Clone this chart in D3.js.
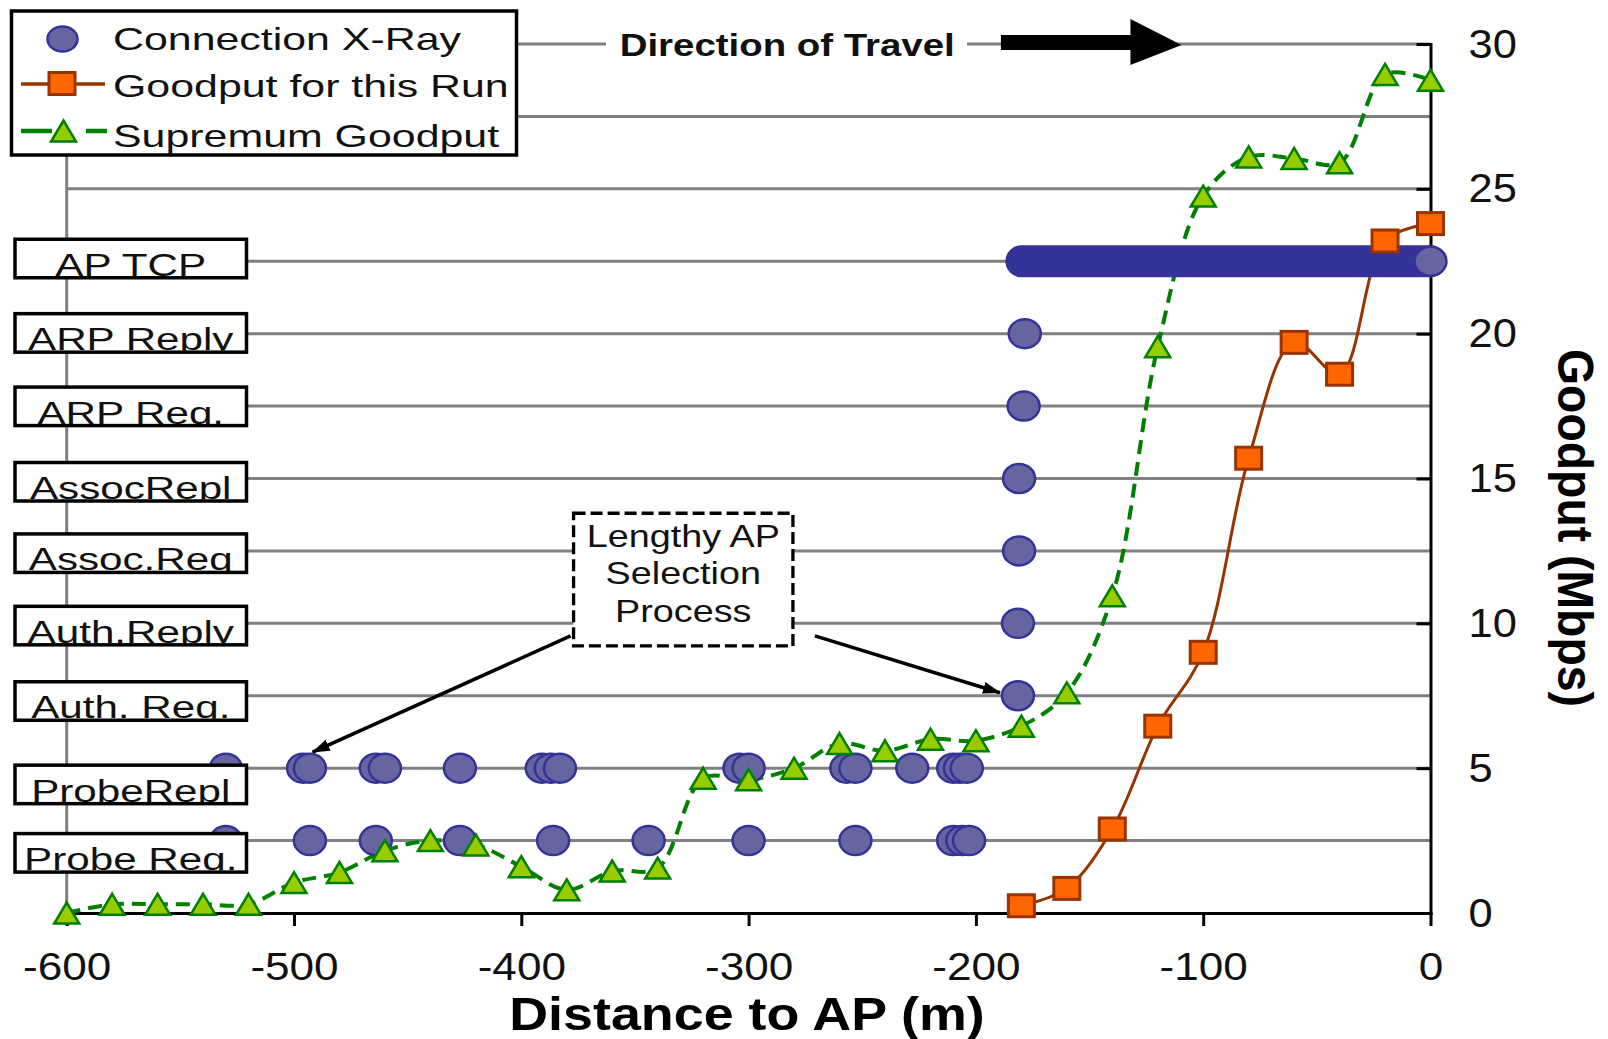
<!DOCTYPE html>
<html>
<head>
<meta charset="utf-8">
<script src="https://cdn.jsdelivr.net/npm/d3@7"></script>
<style>
  body { margin: 0; background: #fff; }
  svg { display: block; font-family: "Liberation Sans", Arial, sans-serif; }
</style>
</head>
<body>
<div id="chart"></div>
<script>
const svgWidth = 1608;
const svgHeight = 1039;

// axis ticks
const distTicks = [-600, -500, -400, -300, -200, -100, 0];
const goodputTicks = [0, 5, 10, 15, 20, 25, 30];

// packet types of the connection x-ray, bottom to top
const packetTypes = ["Probe Req.", "ProbeRepl", "Auth. Req.", "Auth.Reply", "Assoc.Req",
                     "AssocRepl", "ARP Req.", "ARP Reply", "AP TCP"];

// where (m to AP) each packet type was seen
const probeReqAt  = [-530, -493, -464, -427, -386, -344, -300, -253, -210, -206, -203];
const probeReplAt = [-530, -496, -493, -464, -460, -427, -391, -387, -383, -304, -300,
                     -257, -253, -228, -210, -207, -204];
const authReqAt   = [-181.5];
const authReplyAt = [-181.5];
const assocReqAt  = [-181];
const assocReplAt = [-181];
const arpReqAt    = [-179];
const arpReplyAt  = [-178.5];
// TCP packets flow without a break from here up to the AP
const tcpFrom = -180;
const tcpTo = 0;

// goodput for this run
const runDist    = [-180, -160, -140, -120, -100, -80, -60, -40, -20, 0];
const runGoodput = [0.25, 0.85, 2.9, 6.45, 9.0, 15.7, 19.7, 18.6, 23.2, 23.8];

// supremum goodput
const supDist = [-600, -580, -560, -540, -520, -500, -480, -460, -440, -420, -400,
                 -380, -360, -340, -320, -300, -280, -260, -240, -220, -200,
                 -180, -160, -140, -120, -100, -80, -60, -40, -20, 0];
const supGoodput = [0.0, 0.3, 0.3, 0.3, 0.3, 1.05, 1.4, 2.15, 2.5, 2.35, 1.6,
                    0.8, 1.45, 1.55, 4.65, 4.6, 5.0, 5.85, 5.6, 6.0, 5.95,
                    6.45, 7.6, 10.95, 19.55, 24.75, 26.1, 26.05, 25.9, 28.95, 28.75];

// how far each label box sits above its grid line (px), same order as packetTypes
const boxLift = [7, 3, 14, 17, 17, 16, 19, 20, 22];

const svg = d3.select("#chart")
  .append("svg")
  .attr("width", svgWidth)
  .attr("height", svgHeight);

const defs = svg.append("defs");
defs.append("marker")
  .attr("id", "head")
  .attr("markerUnits", "userSpaceOnUse")
  .attr("markerWidth", 18).attr("markerHeight", 12)
  .attr("refX", 17).attr("refY", 6)
  .attr("orient", "auto")
  .append("path").attr("d", "M0,0 L18,6 L0,12 Z").attr("fill", "#000");

const x = d3.scaleLinear().domain([-600, 0]).range([66.7, 1430.5]);
const y = d3.scaleLinear().domain([0, 30]).range([913, 44]);
const yCat = d3.scalePoint().domain(packetTypes).range([y(2.5), y(22.5)]);

// make text as wide as the (horizontally stretched) original
function stretch(sel, k) {
  sel.each(function() {
    const w = this.getComputedTextLength();
    d3.select(this).attr("textLength", w * k).attr("lengthAdjust", "spacingAndGlyphs");
  });
}

// grid lines every 2.5 Mbps
const gridSteps = d3.range(2.5, 30.01, 2.5);
svg.append("g").selectAll("line")
  .data(gridSteps)
  .join("line")
  .attr("x1", x(-600)).attr("x2", x(0))
  .attr("y1", d => y(d)).attr("y2", d => y(d))
  .attr("stroke", "#808080").attr("stroke-width", 3);

svg.append("line")
  .attr("x1", x(-600)).attr("x2", x(-600))
  .attr("y1", y(0)).attr("y2", y(30))
  .attr("stroke", "#808080").attr("stroke-width", 3);

// axes
const bottomAxis = d3.axisBottom(x)
  .tickValues(distTicks).tickFormat(d => String(d))
  .tickSizeInner(13).tickSizeOuter(0).tickPadding(27);
const rightAxis = d3.axisRight(y)
  .tickValues(goodputTicks).tickFormat(d => String(d))
  .tickSizeInner(-14).tickSizeOuter(0).tickPadding(38);

const xAxis = svg.append("g")
  .attr("transform", `translate(0, ${y(0)})`)
  .call(bottomAxis);
const yAxis = svg.append("g")
  .attr("transform", `translate(${x(0)}, 0)`)
  .call(rightAxis);

[xAxis, yAxis].forEach(g => {
  g.select(".domain").attr("stroke", "#000").attr("stroke-width", 3).attr("stroke-linecap", "square");
  g.selectAll(".tick line").attr("stroke", "#000").attr("stroke-width", 3);
  g.selectAll(".tick text").attr("fill", "#111").attr("font-family", "Liberation Sans, Arial, sans-serif");
});
xAxis.selectAll(".tick text").attr("font-size", 38).call(stretch, 1.16);
yAxis.selectAll(".tick text").attr("font-size", 41).call(stretch, 1.06);

// axis titles
svg.append("text")
  .attr("x", 747).attr("y", 1030)
  .attr("text-anchor", "middle")
  .attr("font-size", 46).attr("font-weight", "bold")
  .text("Distance to AP (m)")
  .call(stretch, 1.17);

svg.append("text")
  .attr("transform", "translate(1558, 528) scale(1.18, 1) rotate(90)")
  .attr("text-anchor", "middle")
  .attr("font-size", 42).attr("font-weight", "bold")
  .attr("textLength", 358).attr("lengthAdjust", "spacingAndGlyphs")
  .text("Goodput (Mbps)");

// goodput lines
const runData = runDist.map((d, i) => ({ d: d, v: runGoodput[i] }));
const supData = supDist.map((d, i) => ({ d: d, v: supGoodput[i] }));
const lineGen = d3.line()
  .x(p => x(p.d)).y(p => y(p.v))
  .curve(d3.curveCatmullRom.alpha(0.5));

svg.append("path")
  .datum(supData)
  .attr("d", lineGen)
  .attr("fill", "none").attr("stroke", "#008000")
  .attr("stroke-width", 4).attr("stroke-dasharray", "14,8");

svg.append("path")
  .datum(runData)
  .attr("d", lineGen)
  .attr("fill", "none").attr("stroke", "#993300").attr("stroke-width", 3);

// connection x-ray
const xraySeen = [probeReqAt, probeReplAt, authReqAt, authReplyAt, assocReqAt,
                  assocReplAt, arpReqAt, arpReplyAt, [tcpTo]];
const dotFill = "#65659f";
const dotEdge = "#333399";

svg.append("line")
  .attr("x1", x(tcpFrom)).attr("x2", x(tcpTo))
  .attr("y1", yCat("AP TCP")).attr("y2", yCat("AP TCP"))
  .attr("stroke", dotEdge).attr("stroke-width", 32).attr("stroke-linecap", "round");

const xrayGroup = svg.append("g");
packetTypes.forEach((t, i) => {
  xrayGroup.append("g").selectAll("ellipse")
    .data(xraySeen[i])
    .join("ellipse")
    .attr("cx", d => x(d)).attr("cy", yCat(t))
    .attr("rx", 16).attr("ry", 14.5)
    .attr("fill", dotFill).attr("stroke", dotEdge).attr("stroke-width", 2.5);
});

// markers
const triPath = "M0,-10.5 L12.5,10.5 L-12.5,10.5 Z";
svg.append("g").selectAll("path")
  .data(supData)
  .join("path")
  .attr("d", triPath)
  .attr("transform", p => `translate(${x(p.d)}, ${y(p.v)})`)
  .attr("fill", "#99cc00").attr("stroke", "#008000").attr("stroke-width", 2.5)
  .attr("stroke-linejoin", "miter");

svg.append("g").selectAll("rect")
  .data(runData)
  .join("rect")
  .attr("x", p => x(p.d) - 13).attr("y", p => y(p.v) - 11)
  .attr("width", 26).attr("height", 22)
  .attr("fill", "#ff6600").attr("stroke", "#993300").attr("stroke-width", 3);

// packet type label boxes
const boxX = 15, boxW = 231.5, boxH = 38.5;
const labelGroup = svg.append("g");
packetTypes.forEach((t, i) => {
  const top = yCat(t) - boxLift[i];
  defs.append("clipPath").attr("id", "clip" + i)
    .append("rect").attr("x", boxX).attr("y", top).attr("width", boxW).attr("height", boxH - 1.5);
  const g = labelGroup.append("g");
  g.append("rect")
    .attr("x", boxX).attr("y", top).attr("width", boxW).attr("height", boxH)
    .attr("fill", "#fff");
  g.append("text")
    .attr("x", boxX + boxW / 2).attr("y", top + boxH - 2)
    .attr("text-anchor", "middle")
    .attr("font-size", 31).attr("fill", "#111")
    .attr("clip-path", `url(#clip${i})`)
    .text(t)
    .call(stretch, 1.36);
  g.append("rect")
    .attr("x", boxX).attr("y", top).attr("width", boxW).attr("height", boxH)
    .attr("fill", "none").attr("stroke", "#000").attr("stroke-width", 3.5);
});

// legend
const legend = svg.append("g");
legend.append("rect")
  .attr("x", 11.5).attr("y", 11).attr("width", 505).attr("height", 144)
  .attr("fill", "#fff").attr("stroke", "#000").attr("stroke-width", 3.5);
legend.append("ellipse")
  .attr("cx", 62.5).attr("cy", 39).attr("rx", 15).attr("ry", 12.5)
  .attr("fill", dotFill).attr("stroke", dotEdge).attr("stroke-width", 2.5);
legend.append("line")
  .attr("x1", 21).attr("x2", 105).attr("y1", 84).attr("y2", 84)
  .attr("stroke", "#993300").attr("stroke-width", 3.5);
legend.append("rect")
  .attr("x", 49).attr("y", 72.5).attr("width", 26).attr("height", 22)
  .attr("fill", "#ff6600").attr("stroke", "#993300").attr("stroke-width", 3);
legend.append("line")
  .attr("x1", 21).attr("x2", 107).attr("y1", 131).attr("y2", 131)
  .attr("stroke", "#008000").attr("stroke-width", 4.5).attr("stroke-dasharray", "31,34,21");
legend.append("path")
  .attr("d", triPath).attr("transform", "translate(63.5, 131)")
  .attr("fill", "#99cc00").attr("stroke", "#008000").attr("stroke-width", 2.5);
legend.selectAll("text.entry")
  .data(["Connection X-Ray", "Goodput for this Run", "Supremum Goodput"])
  .join("text")
  .attr("class", "entry")
  .attr("x", 113).attr("y", (d, i) => [50, 96.5, 146.5][i])
  .attr("font-size", 32).attr("fill", "#111")
  .text(d => d)
  .call(stretch, 1.34);

// direction of travel
const travelY = y(30);
svg.append("rect")
  .attr("x", 606).attr("y", travelY - 14).attr("width", 361).attr("height", 28)
  .attr("fill", "#fff");
svg.append("text")
  .attr("x", x(-283)).attr("y", travelY + 12)
  .attr("text-anchor", "middle")
  .attr("font-size", 32).attr("font-weight", "bold").attr("fill", "#111")
  .text("Direction of Travel")
  .call(stretch, 1.2);
svg.append("path")
  .attr("d", `M${x(-189)},${travelY - 9} H${x(-132)} V${travelY - 25}
              L${x(-109.5)},${travelY + 1} L${x(-132)},${travelY + 21}
              V${travelY + 6} H${x(-189)} Z`)
  .attr("fill", "#000");

// lengthy AP selection callout
const cx0 = x(-377), cx1 = x(-280.5), cy0 = y(13.8), cy1 = y(9.22);
svg.append("rect")
  .attr("x", cx0).attr("y", cy0).attr("width", cx1 - cx0).attr("height", cy1 - cy0)
  .attr("fill", "#fff").attr("stroke", "#000").attr("stroke-width", 3.3)
  .attr("stroke-dasharray", "12,5");
svg.append("g").selectAll("text")
  .data(["Lengthy AP", "Selection", "Process"])
  .join("text")
  .attr("x", (cx0 + cx1) / 2)
  .attr("y", (d, i) => cy0 + 33.5 + i * 37.5)
  .attr("text-anchor", "middle")
  .attr("font-size", 32).attr("fill", "#111")
  .text(d => d)
  .call(stretch, 1.18);

svg.append("line")
  .attr("x1", cx0 - 3).attr("y1", cy1 - 10)
  .attr("x2", x(-494) + 5).attr("y2", yCat("ProbeRepl") - 16)
  .attr("stroke", "#000").attr("stroke-width", 3.5).attr("marker-end", "url(#head)");
svg.append("line")
  .attr("x1", cx1 + 22).attr("y1", cy1 - 10)
  .attr("x2", x(authReqAt[0]) - 18).attr("y2", yCat("Auth. Req.") - 3)
  .attr("stroke", "#000").attr("stroke-width", 3.5).attr("marker-end", "url(#head)");
</script>
</body>
</html>
